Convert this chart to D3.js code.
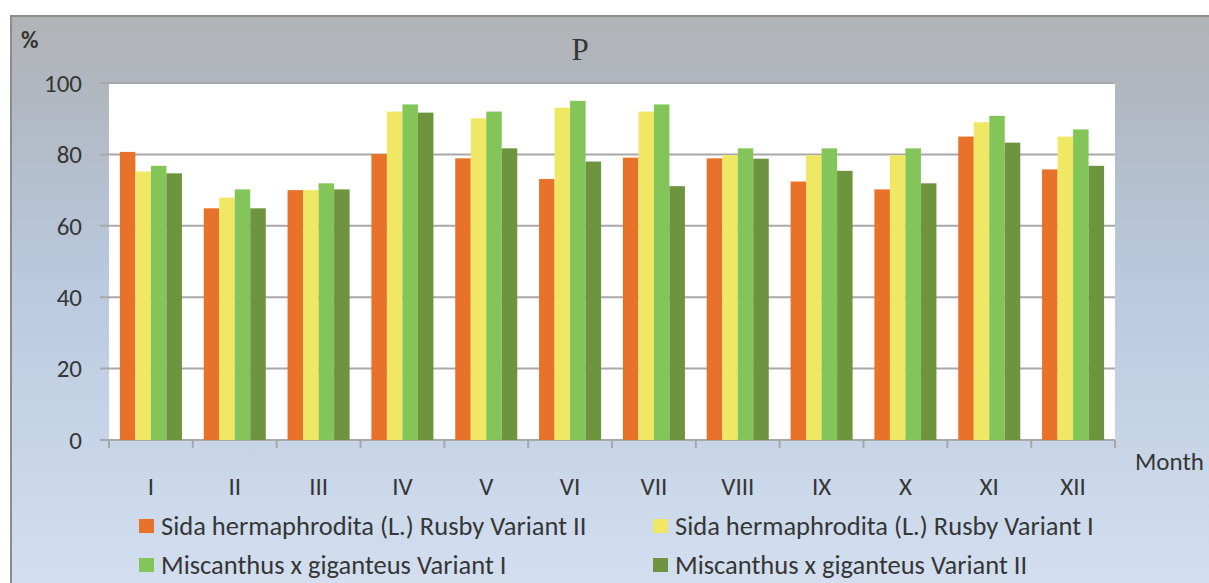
<!DOCTYPE html>
<html>
<head>
<meta charset="utf-8">
<script src="https://cdn.jsdelivr.net/npm/d3@7"></script>
<style>
  body { margin: 0; background: #fff; }
  svg { display: block; }
  text { font-family: Carlito, Lato, "Open Sans", sans-serif; fill: #363636; }
</style>
</head>
<body>
<div id="chart"></div>
<script>
// month categories
var months = ["I", "II", "III", "IV", "V", "VI", "VII", "VIII", "IX", "X", "XI", "XII"];
var seriesNames = [
  "Sida hermaphrodita (L.) Rusby Variant II",
  "Sida hermaphrodita (L.) Rusby Variant I",
  "Miscanthus x giganteus Variant I",
  "Miscanthus x giganteus Variant II"
];
// values in %
var sidaII  = [80.7, 64.9, 70.0, 80.1, 78.9, 73.1, 79.1, 78.9, 72.4, 70.2, 85.0, 75.8];
var sidaI   = [75.2, 67.9, 70.0, 92.0, 90.1, 93.1, 92.0, 79.8, 79.8, 79.8, 89.0, 85.0];
var miscI   = [76.8, 70.2, 71.9, 94.0, 92.0, 95.0, 94.0, 81.7, 81.7, 81.7, 90.8, 87.0];
var miscII  = [74.7, 64.9, 70.2, 91.7, 81.7, 78.0, 71.1, 78.8, 75.4, 71.9, 83.3, 76.8];
var yTicks = [0, 20, 40, 60, 80, 100];
var colors = ["#e8722a", "#f0e864", "#84c55a", "#6f9440"];

var W = 1209, H = 583;
var plot = { left: 109, right: 1115, top: 83, bottom: 440 };

var svg = d3.select("#chart").append("svg")
  .attr("width", W).attr("height", H);

var defs = svg.append("defs");
var grad = defs.append("linearGradient").attr("id", "bg")
  .attr("x1", 0).attr("y1", 0).attr("x2", 0).attr("y2", 1);
grad.append("stop").attr("offset", "0%").attr("stop-color", "#b1b3b5");
grad.append("stop").attr("offset", "15%").attr("stop-color", "#b1b8c2");
grad.append("stop").attr("offset", "45%").attr("stop-color", "#b9c9de");
grad.append("stop").attr("offset", "100%").attr("stop-color", "#d4e0f0");

// chart frame
svg.append("rect")
  .attr("x", 11).attr("y", 16)
  .attr("width", W).attr("height", H)
  .attr("fill", "url(#bg)")
  .attr("stroke", "#8c8c8c").attr("stroke-width", 2);

// plot area
svg.append("rect")
  .attr("x", plot.left).attr("y", plot.top)
  .attr("width", plot.right - plot.left).attr("height", plot.bottom - plot.top)
  .attr("fill", "#fff");

var y = d3.scaleLinear().domain([0, 100]).range([plot.bottom, plot.top]);

var x0 = d3.scaleBand().domain(months)
  .range([plot.left, plot.right])
  .paddingInner(0.26).paddingOuter(0.13);

var x1 = d3.scaleBand().domain(d3.range(4))
  .range([0, x0.bandwidth()]);

// grid lines + y labels
var yAxis = svg.append("g");
yAxis.selectAll("line").data(yTicks).enter().append("line")
  .attr("x1", plot.left - 9).attr("x2", plot.right)
  .attr("y1", function(d) { return y(d); })
  .attr("y2", function(d) { return y(d); })
  .attr("stroke", "#a8a8a8").attr("stroke-width", 2);
yAxis.selectAll("text").data(yTicks).enter().append("text")
  .attr("x", 82).attr("y", function(d) { return y(d); })
  .attr("dy", "0.35em")
  .attr("text-anchor", "end")
  .attr("font-size", "25px")
  .text(function(d) { return d; });

// bars
var table = months.map(function(m, i) {
  return { month: m, values: [sidaII[i], sidaI[i], miscI[i], miscII[i]] };
});

var groups = svg.selectAll(".grp").data(table).enter().append("g")
  .attr("class", "grp")
  .attr("transform", function(d) { return "translate(" + x0(d.month) + ",0)"; });

groups.selectAll("rect").data(function(d) { return d.values; }).enter().append("rect")
  .attr("x", function(d, i) { return x1(i); })
  .attr("width", x1.bandwidth())
  .attr("y", function(d) { return y(d); })
  .attr("height", function(d) { return y(0) - y(d); })
  .attr("fill", function(d, i) { return colors[i]; });

// x axis ticks at category edges
var half = x0.step() * x0.paddingInner() / 2;
var edges = months.map(function(m) { return x0(m) - half; });
edges.push(x0(months[months.length - 1]) + x0.bandwidth() + half);
svg.selectAll(".xtick").data(edges).enter().append("line")
  .attr("class", "xtick")
  .attr("x1", function(d) { return d; }).attr("x2", function(d) { return d; })
  .attr("y1", plot.bottom).attr("y2", plot.bottom + 8)
  .attr("stroke", "#a8a8a8").attr("stroke-width", 2);

svg.selectAll(".xlab").data(months).enter().append("text")
  .attr("class", "xlab")
  .attr("x", function(d) { return x0(d) + x0.bandwidth() / 2; })
  .attr("y", 495)
  .attr("text-anchor", "middle")
  .attr("font-size", "25px")
  .text(function(d) { return d; });

svg.append("text").attr("x", 1135).attr("y", 470)
  .attr("font-size", "25px").text("Month");

svg.append("text").attr("x", 21).attr("y", 48)
  .attr("font-size", "24px").attr("font-weight", "bold").text("%");

svg.append("text").attr("x", 580).attr("y", 60)
  .attr("text-anchor", "middle")
  .attr("font-size", "31px").style("font-family", "'Liberation Serif', serif")
  .text("P");

// legend, 2 columns
var legend = svg.append("g");
var legPos = [[139, 519], [653, 519], [139, 558], [653, 558]];
seriesNames.forEach(function(name, i) {
  var g = legend.append("g").attr("transform", "translate(" + legPos[i][0] + "," + legPos[i][1] + ")");
  g.append("rect").attr("width", 15).attr("height", 14).attr("fill", colors[i]);
  g.append("text").attr("x", 22).attr("y", 7).attr("dy", "0.35em")
    .attr("font-size", "26.5px").text(name);
});
</script>
</body>
</html>
